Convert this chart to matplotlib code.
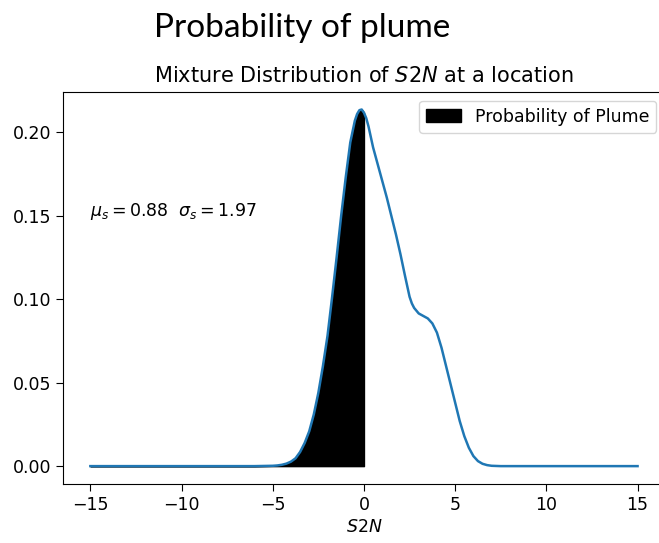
import matplotlib
matplotlib.use("Agg")
import matplotlib.pyplot as plt

# S2N grid and mixture density values
s2n = [-15.0, -10.0, -6.0, -5.0, -4.75, -4.5, -4.25, -4.0, -3.75, -3.5, -3.25, -3.0,
       -2.75, -2.5, -2.25, -2.0, -1.75, -1.5, -1.25, -1.0, -0.75, -0.5, -0.375, -0.25, -0.125,
       0.0, 0.125, 0.25, 0.5, 0.75, 1.0, 1.25, 1.5, 1.75, 2.0, 2.25, 2.5, 2.625, 2.75, 3.0,
       3.25, 3.5, 3.75, 4.0, 4.25, 4.5, 4.75, 5.0, 5.25, 5.5, 5.75, 6.0, 6.25,
       6.5, 6.75, 7.0, 7.25, 7.5, 10.0, 15.0]
density = [0.0, 0.0, 0.0, 0.0002, 0.0004, 0.0008, 0.0015, 0.0027, 0.0047, 0.0085, 0.0139, 0.0209,
           0.031, 0.044, 0.060, 0.078, 0.101, 0.125, 0.150, 0.173, 0.194, 0.207, 0.211, 0.2133, 0.2137,
           0.2118, 0.2085, 0.2035, 0.191, 0.181, 0.171, 0.161, 0.150, 0.139, 0.127, 0.114, 0.1015, 0.0975, 0.0948, 0.0915,
           0.090, 0.0885, 0.0855, 0.080, 0.071, 0.060, 0.049, 0.038, 0.027, 0.018, 0.011, 0.006, 0.003,
           0.0014, 0.0006, 0.0002, 0.0001, 0.0, 0.0, 0.0]

mu_s = 0.88
sigma_s = 1.97
threshold = 0.0

fs = 12.5

fig = plt.figure(figsize=(6.59, 5.43), dpi=100)
fig.text(0.459, 0.948, "Probability of plume", fontsize=24, family="Lato",
         ha="center", va="center")

ax = fig.add_axes([0.0956, 0.1087, 0.9134, 0.7219])

fill_x = [x for x in s2n if x <= threshold]
fill_y = density[:len(fill_x)]
ax.fill_between(fill_x, fill_y, 0, color="black", label="Probability of Plume")
ax.plot(s2n, density, color="#1f77b4", lw=1.8)

ax.set_xlim(-16.5, 16.5)
ax.set_ylim(-0.0107, 0.2242)
ax.set_xticks([-15, -10, -5, 0, 5, 10, 15])
ax.set_yticks([0.0, 0.05, 0.10, 0.15, 0.20])
ax.tick_params(labelsize=fs, length=5)
ax.set_xlabel("$S2N$", fontsize=fs, labelpad=3)
ax.set_title("Mixture Distribution of $S2N$ at a location", fontsize=15, pad=7)
ax.text(-15, 0.15, r"$\mu_s = %.2f$  $\sigma_s = %.2f$" % (mu_s, sigma_s), fontsize=fs)
ax.legend(loc="upper right", fontsize=fs)

fig.savefig("out.png", dpi=100)
